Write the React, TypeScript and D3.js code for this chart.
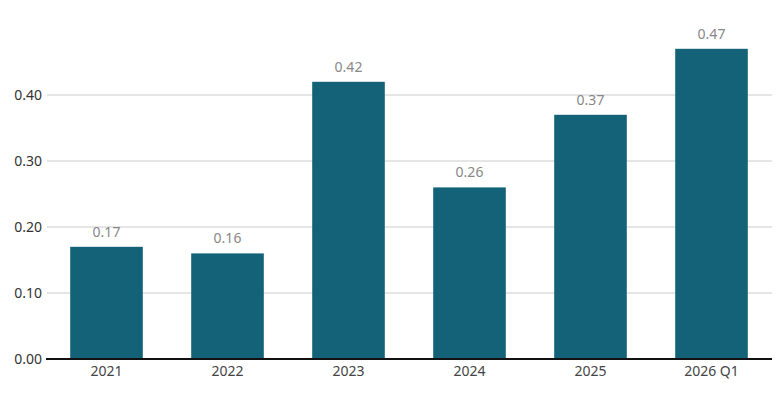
import React from 'react';
import * as d3 from 'd3';

const categories = ['2021', '2022', '2023', '2024', '2025', '2026 Q1'];
const values = [0.17, 0.16, 0.42, 0.26, 0.37, 0.47];
const yTicks = [0, 0.1, 0.2, 0.3, 0.4];

const width = 780;
const height = 400;
const margin = { top: 20, right: 8, bottom: 41, left: 46 };

const App = () => {
  const x = d3.scaleBand()
    .domain(categories)
    .range([margin.left, width - margin.right])
    .paddingInner(0.4)
    .paddingOuter(0.2);

  const y = d3.scaleLinear()
    .domain([0, 0.47])
    .range([height - margin.bottom, height - margin.bottom - 0.47 * 660]);

  const font = "'Noto Sans', sans-serif";

  return (
    <svg width={width} height={height} style={{ position: 'absolute', left: 0, top: 0, fontFamily: font }}>
      {yTicks.map((t) => (
        <g key={t}>
          {t > 0 && (
            <line x1={margin.left + 1} x2={width - margin.right} y1={y(t)} y2={y(t)} stroke="#cccccc" strokeWidth={1} />
          )}
          <text x={margin.left - 4} y={y(t)} dy="0.35em" textAnchor="end" fontSize={14} fill="#333">
            {d3.format('.2f')(t)}
          </text>
        </g>
      ))}

      {categories.map((c, i) => (
        <g key={c}>
          <rect
            x={x(c)}
            y={y(values[i])}
            width={x.bandwidth()}
            height={y(0) - y(values[i])}
            fill="#136278"
          />
          <text
            x={(x(c) ?? 0) + x.bandwidth() / 2}
            y={y(values[i]) - 10}
            textAnchor="middle"
            fontSize={14}
            fill="#888"
          >
            {d3.format('.2f')(values[i])}
          </text>
          <text
            x={(x(c) ?? 0) + x.bandwidth() / 2}
            y={y(0) + 17}
            textAnchor="middle"
            fontSize={14}
            fill="#444"
          >
            {c}
          </text>
        </g>
      ))}

      <line x1={margin.left} x2={width - margin.right} y1={y(0)} y2={y(0)} stroke="#111" strokeWidth={2} />
    </svg>
  );
};

export default App;
